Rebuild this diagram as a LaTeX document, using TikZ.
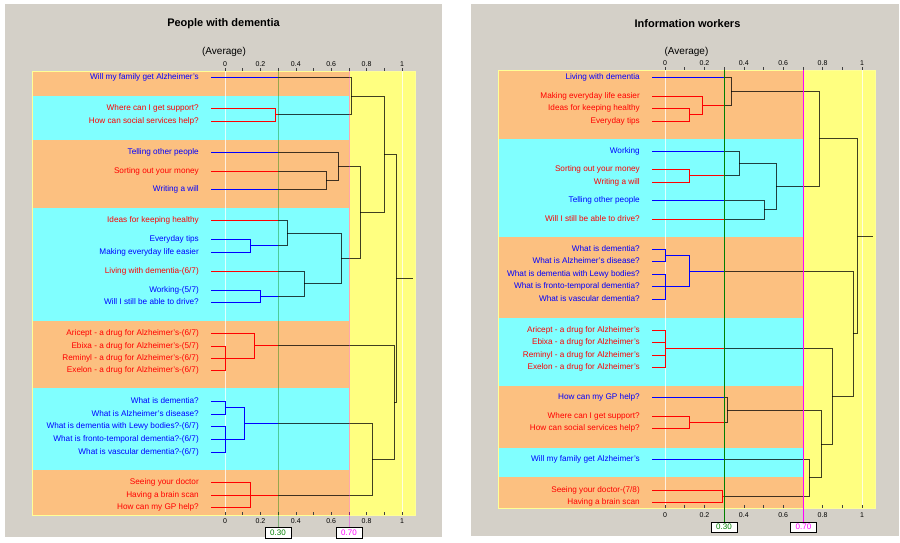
\documentclass[tikz,border=0pt]{standalone}
\usepackage{fontspec}
\setmainfont{Liberation Sans}
\definecolor{panelgray}{RGB}{212,208,200}
\definecolor{bandorange}{RGB}{252,192,128}
\definecolor{bandcyan}{RGB}{128,255,255}
\definecolor{bandyellow}{RGB}{255,255,128}
\definecolor{lblue}{RGB}{0,0,255}
\definecolor{lred}{RGB}{255,0,0}
\definecolor{cutgreen}{RGB}{0,128,0}
\definecolor{cutpink}{RGB}{255,0,255}
\definecolor{frameyellow}{RGB}{255,255,150}

% dendrogram of the first panel
\newcommand\treeA{%
  \draw[bl] (a1.east) -| (m1x23);
  \draw[rd] (a2.east) -| (m23);
  \draw[rd] (a3.east) -| (m23);
  \draw[rd] (m23) -| (m1x23);
  \draw[bl] (a4.east) -| (m4x6);
  \draw[rd] (a5.east) -| (m56);
  \draw[bl] (a6.east) -| (m56);
  \draw[bl] (m56) -| (m4x6);
  \draw[rd] (a7.east) -| (m7x9);
  \draw[bl] (a8.east) -| (m89);
  \draw[bl] (a9.east) -| (m89);
  \draw[bl] (m89) -| (m7x9);
  \draw[rd] (a10.east) -| (m10x12);
  \draw[bl] (a11.east) -| (m1112);
  \draw[bl] (a12.east) -| (m1112);
  \draw[bl] (m1112) -| (m10x12);
  \draw[bl] (m7x9) -| (m7x12);
  \draw[bl] (m10x12) -| (m7x12);
  \draw[bl] (m4x6) -| (m4x12);
  \draw[bl] (m7x12) -| (m4x12);
  \draw[bl] (m1x23) -| (m1x12);
  \draw[bl] (m4x12) -| (m1x12);
  \draw[rd] (a13.east) -| (m13x16);
  \draw[rd] (a14.east) -| (m14x16);
  \draw[rd] (a15.east) -- (m14x16);
  \draw[rd] (a16.east) -| (m14x16);
  \draw[rd] (m14x16) -| (m13x16);
  \draw[bl] (a17.east) -| (m1718);
  \draw[bl] (a18.east) -| (m1718);
  \draw[bl] (a19.east) -| (m19x21);
  \draw[bl] (a20.east) -- (m19x21);
  \draw[bl] (a21.east) -| (m19x21);
  \draw[bl] (m1718) -| (m17x21);
  \draw[bl] (m19x21) -| (m17x21);
  \draw[rd] (a22.east) -| (m22x24);
  \draw[rd] (a23.east) -- (m22x24);
  \draw[rd] (a24.east) -| (m22x24);
  \draw[bl] (m17x21) -| (mqs);
  \draw[rd] (m22x24) -| (mqs);
  \draw[rd] (m13x16) -| (mdqs);
  \draw[bl] (mqs) -| (mdqs);
  \draw[bl] (m1x12) -| (mroot);
  \draw[bl] (mdqs) -| (mroot);
  \draw[bl] (mroot) -- (mstub);
}

% dendrogram of the second panel
\newcommand\treeB{%
  \draw[bl] (b1.east) -| (n1x4);
  \draw[rd] (b2.east) -| (n2x4);
  \draw[rd] (b3.east) -| (n34);
  \draw[rd] (b4.east) -| (n34);
  \draw[rd] (n34) -| (n2x4);
  \draw[rd] (n2x4) -| (n1x4);
  \draw[bl] (b5.east) -| (n5x7);
  \draw[rd] (b6.east) -| (n67);
  \draw[rd] (b7.east) -| (n67);
  \draw[rd] (n67) -| (n5x7);
  \draw[bl] (b8.east) -| (n89);
  \draw[rd] (b9.east) -| (n89);
  \draw[bl] (n5x7) -| (n5x9);
  \draw[bl] (n89) -| (n5x9);
  \draw[bl] (n1x4) -| (n1x9);
  \draw[bl] (n5x9) -| (n1x9);
  \draw[bl] (b10.east) -| (n1011);
  \draw[bl] (b11.east) -| (n1011);
  \draw[bl] (b12.east) -| (n12x14);
  \draw[bl] (b13.east) -| (n12x14);
  \draw[bl] (b14.east) -| (n12x14);
  \draw[bl] (n1011) -| (n10x14);
  \draw[bl] (n12x14) -| (n10x14);
  \draw[rd] (b15.east) -| (n15x18);
  \draw[rd] (b16.east) -| (n15x18);
  \draw[rd] (b17.east) -| (n15x18);
  \draw[rd] (b18.east) -| (n15x18);
  \draw[bl] (b19.east) -| (n19x21);
  \draw[rd] (b20.east) -| (n2021);
  \draw[rd] (b21.east) -| (n2021);
  \draw[rd] (n2021) -| (n19x21);
  \draw[bl] (b22.east) -| (n22x24);
  \draw[rd] (b23.east) -| (n2324);
  \draw[rd] (b24.east) -| (n2324);
  \draw[rd] (n2324) -| (n22x24);
  \draw[bl] (n19x21) -| (n19x24);
  \draw[bl] (n22x24) -| (n19x24);
  \draw[rd] (n15x18) -| (ndx);
  \draw[bl] (n19x24) -| (ndx);
  \draw[bl] (n10x14) -| (nqd);
  \draw[bl] (ndx) -| (nqd);
  \draw[bl] (n1x9) -| (nroot);
  \draw[bl] (nqd) -| (nroot);
  \draw[bl] (nroot) -- (nstub);
}

\begin{document}
\begin{tikzpicture}[x=1pt,y=-1pt,
  lbl/.style={anchor=east,inner xsep=12pt,inner ysep=0pt,text height=5.8pt,text depth=1.6pt,
              font=\fontsize{8.2}{9}\selectfont},
  lb/.style={lbl,text=lblue},
  lr/.style={lbl,text=lred},
  darkline/.style={draw=black,draw opacity=0.75,line width=1pt},
  blueline/.style={draw=lblue,line width=1pt},
  redline/.style={draw=lred,line width=1pt},
  tickmark/.style={draw=black!75,line width=0.6pt},
  axnum/.style={font=\fontsize{7}{8}\selectfont,inner sep=0pt},
  unitline/.style={draw=white,draw opacity=0.75,line width=0.7pt},
  cutbox/.style={draw=black,fill=white,line width=0.6pt,inner sep=0pt,
                 minimum width=26pt,minimum height=11pt,font=\fontsize{8}{9}\selectfont},
  title/.style={font=\fontsize{11}{13}\selectfont\bfseries},
  subtitle/.style={font=\fontsize{10}{12}\selectfont},
]
\useasboundingbox (0,0) rectangle (900,542);
\fill[white] (0,0) rectangle (900,542);

% ---------------- panel backgrounds ----------------
\fill[panelgray] (5,4) rectangle (442,537);
\fill[panelgray] (471,4) rectangle (899,536);

% ---------------- first panel ----------------
\node[title] (tA) at (223.5,24) {People with dementia};
\node[subtitle] (sA) at (224,52) {(Average)};

\fill[bandorange] (32,71) rectangle (349,96);
\fill[bandcyan]   (32,96) rectangle (349,140);
\fill[bandorange] (32,140) rectangle (349,208);
\fill[bandcyan]   (32,208) rectangle (349,321);
\fill[bandorange] (32,321) rectangle (349,388);
\fill[bandcyan]   (32,388) rectangle (349,470);
\fill[bandorange] (32,470) rectangle (349,515);
\fill[bandyellow] (349,71) rectangle (415,515);
\draw[frameyellow,line width=0.6pt] (32,71) rectangle (415,515);
\draw[unitline] (225,71) -- (225,515);
\draw[unitline] (402,71) -- (402,515);

\foreach \k in {0,...,10}{
  \draw[tickmark] ({225+17.7*\k},68) -- ({225+17.7*\k},71);
  \draw[tickmark] ({225+17.7*\k},512) -- ({225+17.7*\k},515);
}
\foreach \k/\t in {0/0,2/0.2,4/0.4,6/0.6,8/0.8,10/1}{
  \node[axnum] (tA\k) at ({225+17.7*\k},64) {\t};
  \node[axnum] (bA\k) at ({225+17.7*\k},521) {\t};
}

\node[lb] (a1)  at (211,77)  {Will my family get Alzheimer's};
\node[lr] (a2)  at (211,108) {Where can I get support?};
\node[lr] (a3)  at (211,121) {How can social services help?};
\node[lb] (a4)  at (211,152) {Telling other people};
\node[lr] (a5)  at (211,171) {Sorting out your money};
\node[lb] (a6)  at (211,189) {Writing a will};
\node[lr] (a7)  at (211,220) {Ideas for keeping healthy};
\node[lb] (a8)  at (211,239) {Everyday tips};
\node[lb] (a9)  at (211,252) {Making everyday life easier};
\node[lr] (a10) at (211,271) {Living with dementia-(6/7)};
\node[lb] (a11) at (211,290) {Working-(5/7)};
\node[lb] (a12) at (211,302) {Will I still be able to drive?};
\node[lr] (a13) at (211,333) {Aricept - a drug for Alzheimer's-(6/7)};
\node[lr] (a14) at (211,346) {Ebixa - a drug for Alzheimer's-(5/7)};
\node[lr] (a15) at (211,358) {Reminyl - a drug for Alzheimer's-(6/7)};
\node[lr] (a16) at (211,370) {Exelon - a drug for Alzheimer's-(6/7)};
\node[lb] (a17) at (211,401) {What is dementia?};
\node[lb] (a18) at (211,414) {What is Alzheimer's disease?};
\node[lb] (a19) at (211,426) {What is dementia with Lewy bodies?-(6/7)};
\node[lb] (a20) at (211,439) {What is fronto-temporal dementia?-(6/7)};
\node[lb] (a21) at (211,452) {What is vascular dementia?-(6/7)};
\node[lr] (a22) at (211,482) {Seeing your doctor};
\node[lr] (a23) at (211,495) {Having a brain scan};
\node[lr] (a24) at (211,507) {How can my GP help?};

% merge points: (height, middle of the joined branches)
\coordinate (m23)    at (275,114.5);
\coordinate (m1x23)  at (351,96);
\coordinate (m56)    at (326,180);
\coordinate (m4x6)   at (338,166);
\coordinate (m89)    at (250,245.5);
\coordinate (m7x9)   at (287,233);
\coordinate (m1112)  at (260,296);
\coordinate (m10x12) at (304,283.5);
\coordinate (m7x12)  at (341,258);
\coordinate (m4x12)  at (360,212);
\coordinate (m1x12)  at (384,154);
\coordinate (m14x16) at (225,358);
\coordinate (m13x16) at (254,345.5);
\coordinate (m1718)  at (225,407.5);
\coordinate (m19x21) at (225,439);
\coordinate (m17x21) at (244,423);
\coordinate (m22x24) at (250,495);
\coordinate (mqs)    at (372,459);
\coordinate (mdqs)   at (394,402);
\coordinate (mroot)  at (396,278);
\coordinate (mstub)  at (413,278);

% branches above the 0.30 cut in dark, below it in the group colours
\begin{scope}
  \clip (278,60) rectangle (420,520);
  \begin{scope}[bl/.style={darkline},rd/.style={darkline}]
    \treeA
  \end{scope}
\end{scope}
\begin{scope}
  \clip (200,60) rectangle (278,520);
  \begin{scope}[bl/.style={blueline},rd/.style={redline}]
    \treeA
  \end{scope}
\end{scope}

\node[cutbox,text=cutgreen] (cA3) at (278,532.5) {0.30};
\node[cutbox,text=cutpink]  (cA7) at (349,532.5) {0.70};
\coordinate (cA3top) at (278,71);
\coordinate (cA7top) at (349,71);
\draw[draw=cutgreen,draw opacity=0.4,line width=1pt] (cA3top) -- (cA3.north);
\draw[draw=cutpink,draw opacity=0.35,line width=1pt] (cA7top) -- (cA7.north);

% ---------------- second panel ----------------
\node[title] (tB) at (687.5,24) {Information workers};
\node[subtitle] (sB) at (686.5,52) {(Average)};

\fill[bandorange] (498,70) rectangle (803,139);
\fill[bandcyan]   (498,139) rectangle (803,237);
\fill[bandorange] (498,237) rectangle (803,318);
\fill[bandcyan]   (498,318) rectangle (803,386);
\fill[bandorange] (498,386) rectangle (803,448);
\fill[bandcyan]   (498,448) rectangle (803,477);
\fill[bandorange] (498,477) rectangle (803,508);
\fill[bandyellow] (803,70) rectangle (875,508);
\draw[frameyellow,line width=0.6pt] (498,70) rectangle (875,508);
\draw[unitline] (665,70) -- (665,508);
\draw[unitline] (862,70) -- (862,508);

\foreach \k in {0,...,10}{
  \draw[tickmark] ({665+19.7*\k},67) -- ({665+19.7*\k},70);
  \draw[tickmark] ({665+19.7*\k},505) -- ({665+19.7*\k},508);
}
\foreach \k/\t in {0/0,2/0.2,4/0.4,6/0.6,8/0.8,10/1}{
  \node[axnum] (tB\k) at ({665+19.7*\k},63) {\t};
  \node[axnum] (bB\k) at ({665+19.7*\k},515) {\t};
}

\node[lb] (b1)  at (652,77)  {Living with dementia};
\node[lr] (b2)  at (652,96)  {Making everyday life easier};
\node[lr] (b3)  at (652,108) {Ideas for keeping healthy};
\node[lr] (b4)  at (652,121) {Everyday tips};
\node[lb] (b5)  at (652,151) {Working};
\node[lr] (b6)  at (652,169) {Sorting out your money};
\node[lr] (b7)  at (652,182) {Writing a will};
\node[lb] (b8)  at (652,200) {Telling other people};
\node[lr] (b9)  at (652,219) {Will I still be able to drive?};
\node[lb] (b10) at (652,249) {What is dementia?};
\node[lb] (b11) at (652,261) {What is Alzheimer's disease?};
\node[lb] (b12) at (652,274) {What is dementia with Lewy bodies?};
\node[lb] (b13) at (652,286.5) {What is fronto-temporal dementia?};
\node[lb] (b14) at (652,299) {What is vascular dementia?};
\node[lr] (b15) at (652,330) {Aricept - a drug for Alzheimer's};
\node[lr] (b16) at (652,342) {Ebixa - a drug for Alzheimer's};
\node[lr] (b17) at (652,355) {Reminyl - a drug for Alzheimer's};
\node[lr] (b18) at (652,367) {Exelon - a drug for Alzheimer's};
\node[lb] (b19) at (652,397) {How can my GP help?};
\node[lr] (b20) at (652,416) {Where can I get support?};
\node[lr] (b21) at (652,428) {How can social services help?};
\node[lb] (b22) at (652,459) {Will my family get Alzheimer's};
\node[lr] (b23) at (652,490) {Seeing your doctor-(7/8)};
\node[lr] (b24) at (652,502) {Having a brain scan};

\coordinate (n34)    at (689,114.5);
\coordinate (n2x4)   at (702,105);
\coordinate (n1x4)   at (731,91);
\coordinate (n67)    at (689,175.5);
\coordinate (n5x7)   at (739,163);
\coordinate (n89)    at (764,209.5);
\coordinate (n5x9)   at (776,186);
\coordinate (n1x9)   at (819,138.5);
\coordinate (n1011)  at (665,255);
\coordinate (n12x14) at (665,286.5);
\coordinate (n10x14) at (689,271);
\coordinate (n15x18) at (665,348.5);
\coordinate (n2021)  at (689,422);
\coordinate (n19x21) at (727,410);
\coordinate (n2324)  at (722,496);
\coordinate (n22x24) at (809,477.5);
\coordinate (n19x24) at (821,444);
\coordinate (ndx)    at (832,396);
\coordinate (nqd)    at (853,333.5);
\coordinate (nroot)  at (857,236);
\coordinate (nstub)  at (873,236);

\begin{scope}
  \clip (724,60) rectangle (880,515);
  \begin{scope}[bl/.style={darkline},rd/.style={darkline}]
    \treeB
  \end{scope}
\end{scope}
\begin{scope}
  \clip (640,60) rectangle (724,515);
  \begin{scope}[bl/.style={blueline},rd/.style={redline}]
    \treeB
  \end{scope}
\end{scope}

\node[cutbox,text=cutgreen,minimum height=10pt] (cB3) at (724,527) {0.30};
\node[cutbox,text=cutpink,minimum height=10pt]  (cB7) at (803.5,527) {0.70};
\coordinate (cB3top) at (724,70);
\coordinate (cB7top) at (803.5,70);
\draw[draw=cutgreen,line width=1pt] (cB3top) -- (cB3.north);
\draw[draw=cutpink,line width=0.8pt] (cB7top) -- (cB7.north);
\end{tikzpicture}
\end{document}
